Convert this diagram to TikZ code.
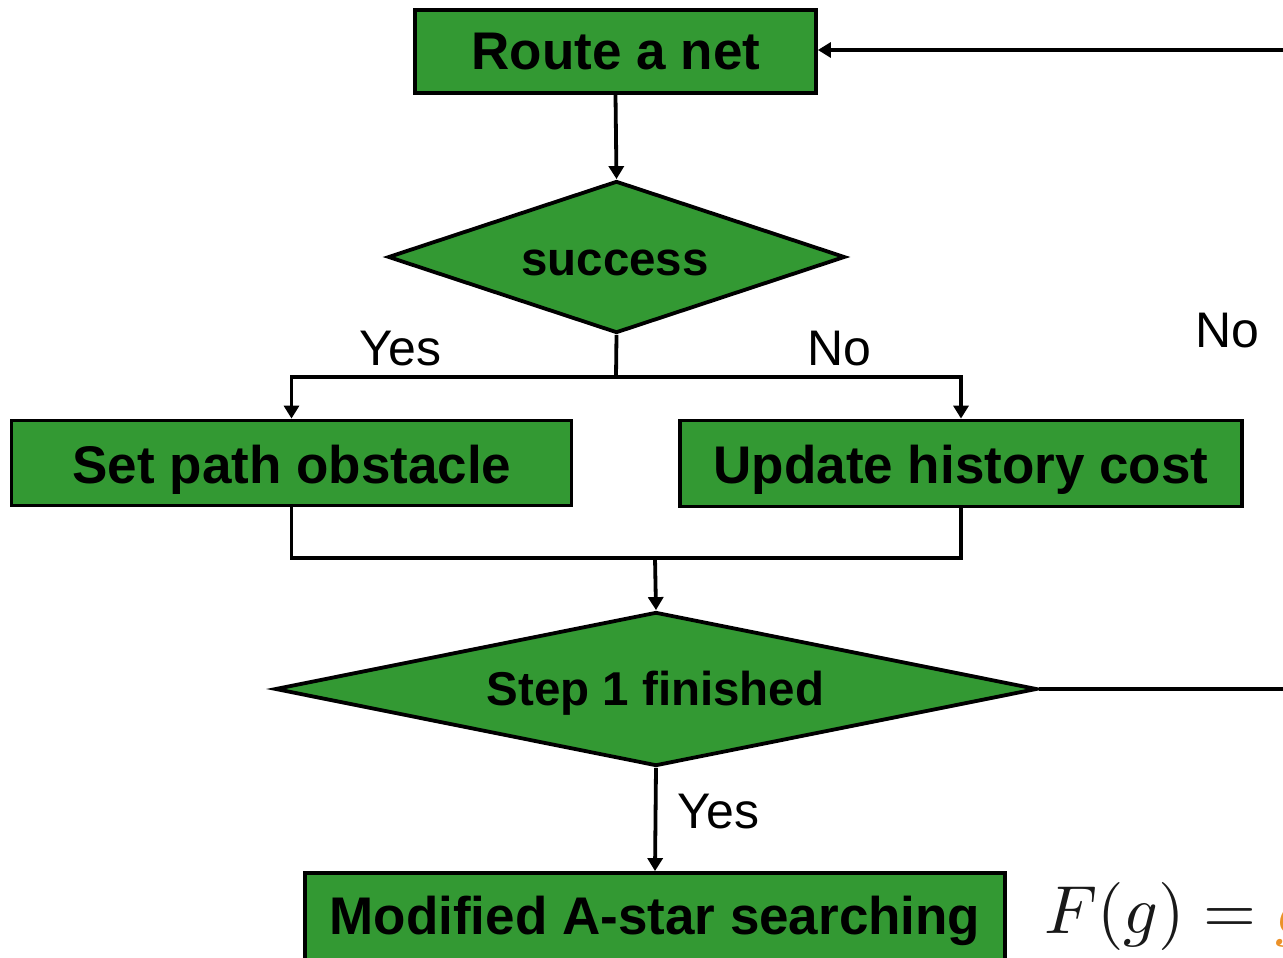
\documentclass[tikz,border=0pt]{standalone}
\usepackage{graphicx}
\usepackage{fontspec}
\setmainfont{Liberation Sans}
\usetikzlibrary{shapes.geometric,arrows.meta}
\definecolor{boxgreen}{RGB}{51,153,51}
\definecolor{formorange}{RGB}{235,145,40}
\tikzset{
  procbox/.style={draw=black, line width=3.8pt, fill=boxgreen, rectangle, inner sep=0pt},
  decision/.style={draw=black, line width=3.8pt, fill=boxgreen, diamond, inner sep=0pt},
  boxtext/.style={font=\bfseries\fontsize{53}{60}\selectfont, inner sep=0pt, anchor=base},
  dectext/.style={font=\bfseries\fontsize{47.5}{55}\selectfont, inner sep=0pt, anchor=base},
  branch/.style={font=\fontsize{50}{56}\selectfont, inner sep=0pt, anchor=base},
  link/.style={line width=3.8pt},
  arr/.style={line width=3.8pt, -{Triangle[length=13pt,width=15pt]}}
}
\begin{document}
\begin{tikzpicture}[x=1pt,y=-1pt]
\useasboundingbox (0,0) rectangle (1283,958);
\begin{scope}
\clip (0,0) rectangle (1283,958);

% process boxes and decisions
\node[procbox, minimum width=401pt, minimum height=83pt] (route) at (615.5,51.5) {};
\node[boxtext] at (616,70) {Route a net};

\node[decision, minimum width=457pt, minimum height=152pt] (succ) at (616.5,257) {};
\node[dectext] at (615,275) {success};

\node[procbox, minimum width=560pt, minimum height=85pt] (setpath) at (291.5,463) {};
\node[boxtext] at (292,483) {Set path obstacle};

\node[procbox, minimum width=562pt, minimum height=86pt] (update) at (961,463.5) {};
\node[boxtext] at (961,483) {Update history cost};

\node[decision, minimum width=762pt, minimum height=154pt] (step1) at (656,689) {};
\node[dectext] at (655.5,705) {Step 1 finished};

\node[procbox, minimum width=700pt, minimum height=100pt] (astar) at (655,923) {};
\node[boxtext] at (655,934) {Modified A-star searching};

% joints of the flow lines
\coordinate (split) at (616,377);
\coordinate (merge) at (655,558);
\coordinate (loopR) at (1290,689);
\coordinate (loopT) at (1290,50);

% connectors
\draw[arr] (route.south) -- (succ.north);
\draw[link] (succ.south) -- (split);
\draw[arr] (split) -| (setpath.north);
\draw[arr] (split) -| (update.north);
\draw[link] (setpath.south) |- (merge);
\draw[link] (update.south) |- (merge);
\draw[arr] (merge) -- (step1.north);
\draw[link] (step1.east) -- (loopR);
\draw[arr] (loopT) -- (route.east |- loopT);
\draw[arr] (step1.south) -- (astar.north);

% branch labels
\node[branch] (yes1) at (400.5,365) {Yes};
\node[branch] (no1) at (839.5,365) {No};
\node[branch] (no2) at (1227.5,347) {No};
\node[branch] (yes2) at (718.5,828) {Yes};

% cost function, Computer Modern math enlarged
\node[anchor=base west, inner sep=0pt, text=black!90] (cost) at (1044,933)
  {\scalebox{6.8}{$F(g)=\textcolor{formorange}{g}$}};
\end{scope}
\end{tikzpicture}
\end{document}
